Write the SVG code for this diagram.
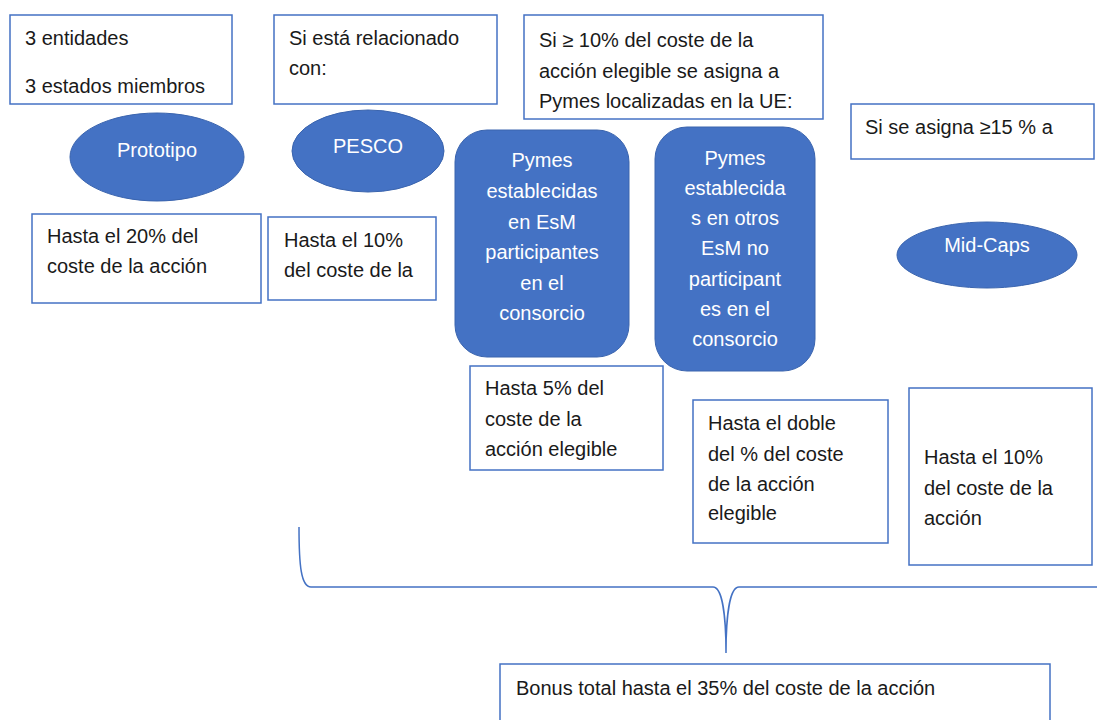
<svg xmlns="http://www.w3.org/2000/svg" width="1097" height="720" viewBox="0 0 1097 720">
<style>
.box{fill:#fff;stroke:#4472C4;stroke-width:1.5}
.shape{fill:#4472C4;stroke:#3A64AE;stroke-width:1}
.t{font-family:"Liberation Sans",Arial,sans-serif;font-size:20px;fill:#1a1a1a}
.w{font-family:"Liberation Sans",Arial,sans-serif;font-size:20px;fill:#fff;text-anchor:middle}
.conn{fill:none;stroke:#4472C4;stroke-width:1.5}
</style>
<rect width="1097" height="720" fill="#fff"/>
<g id="connectors">
<path class="conn" d="M299,527 C299,565 301,587 311,587 L713,587 C722,587 726,615 726,653 C726,615 730,587 739,587 L1097,587"/>
</g>
<g id="box-entidades">
<rect class="box" x="10" y="15" width="222" height="89"/>
<text class="t" x="25" y="45">3 entidades</text>
<text class="t" x="25" y="93">3 estados miembros</text>
</g>
<g id="box-relacionado">
<rect class="box" x="274" y="15" width="223" height="89"/>
<text class="t" x="289" y="45">Si está relacionado</text>
<text class="t" x="289" y="75">con:</text>
</g>
<g id="box-pymes-ue">
<rect class="box" x="524" y="15" width="299" height="104"/>
<text class="t" x="539" y="47">Si ≥ 10% del coste de la</text>
<text class="t" x="539" y="78">acción elegible se asigna a</text>
<text class="t" x="539" y="108">Pymes localizadas en la UE:</text>
</g>
<g id="box-asigna15">
<rect class="box" x="851" y="104" width="243" height="55"/>
<text class="t" x="865" y="134">Si se asigna ≥15 % a</text>
</g>
<g id="prototipo">
<ellipse class="shape" cx="157" cy="157" rx="87" ry="44"/>
<text class="w" x="157" y="157">Prototipo</text>
</g>
<g id="pesco">
<ellipse class="shape" cx="368" cy="151" rx="76" ry="41"/>
<text class="w" x="368" y="153">PESCO</text>
</g>
<g id="pymes-participantes">
<rect class="shape" x="455" y="130" width="174" height="227" rx="32"/>
<text class="w" x="542" y="167">Pymes</text>
<text class="w" x="542" y="198">establecidas</text>
<text class="w" x="542" y="229">en EsM</text>
<text class="w" x="542" y="259">participantes</text>
<text class="w" x="542" y="290">en el</text>
<text class="w" x="542" y="320">consorcio</text>
</g>
<g id="pymes-no-participantes">
<rect class="shape" x="655" y="127" width="160" height="244" rx="32"/>
<text class="w" x="735" y="165">Pymes</text>
<text class="w" x="735" y="195">establecida</text>
<text class="w" x="735" y="225">s en otros</text>
<text class="w" x="735" y="255">EsM no</text>
<text class="w" x="735" y="286">participant</text>
<text class="w" x="735" y="316">es en el</text>
<text class="w" x="735" y="346">consorcio</text>
</g>
<g id="midcaps">
<ellipse class="shape" cx="987" cy="255" rx="90" ry="33"/>
<text class="w" x="987" y="252">Mid-Caps</text>
</g>
<g id="box-20">
<rect class="box" x="32" y="214" width="229" height="89"/>
<text class="t" x="47" y="243">Hasta el 20% del</text>
<text class="t" x="47" y="273">coste de la acción</text>
</g>
<g id="box-10-pesco">
<rect class="box" x="268" y="217" width="168" height="83"/>
<text class="t" x="284" y="247">Hasta el 10%</text>
<text class="t" x="284" y="277">del coste de la</text>
</g>
<g id="box-5">
<rect class="box" x="470" y="366" width="193" height="104"/>
<text class="t" x="485" y="395">Hasta 5% del</text>
<text class="t" x="485" y="426">coste de la</text>
<text class="t" x="485" y="456">acción elegible</text>
</g>
<g id="box-doble">
<rect class="box" x="693" y="400" width="195" height="143"/>
<text class="t" x="708" y="430">Hasta el doble</text>
<text class="t" x="708" y="461">del % del coste</text>
<text class="t" x="708" y="491">de la acción</text>
<text class="t" x="708" y="520">elegible</text>
</g>
<g id="box-10-midcaps">
<rect class="box" x="909" y="388" width="183" height="177"/>
<text class="t" x="924" y="464">Hasta el 10%</text>
<text class="t" x="924" y="495">del coste de la</text>
<text class="t" x="924" y="525">acción</text>
</g>
<g id="box-total">
<rect class="box" x="500" y="664" width="550" height="70"/>
<text class="t" x="516" y="695">Bonus total hasta el 35% del coste de la acción</text>
</g>
</svg>
